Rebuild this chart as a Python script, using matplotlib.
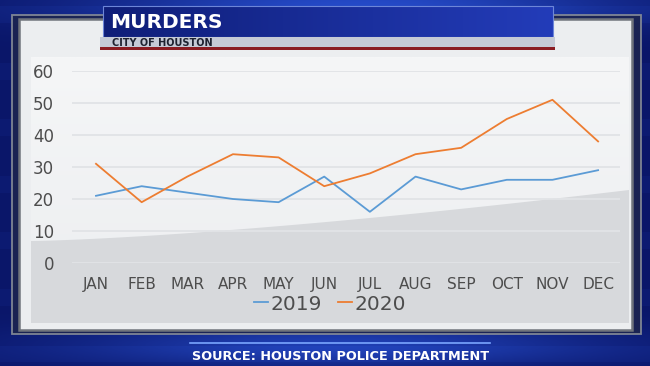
import numpy as np
import matplotlib
matplotlib.use("Agg")
import matplotlib.pyplot as plt
from matplotlib.patches import Rectangle, Polygon

months = ["JAN", "FEB", "MAR", "APR", "MAY", "JUN", "JUL", "AUG", "SEP", "OCT", "NOV", "DEC"]
murders_2019 = [21, 24, 22, 20, 19, 27, 16, 27, 23, 26, 26, 29]
murders_2020 = [31, 19, 27, 34, 33, 24, 28, 34, 36, 45, 51, 38]
y_ticks = [0, 10, 20, 30, 40, 50, 60]
series_labels = ["2019", "2020"]

W, H = 650, 366
FONT = "DejaVu Sans"
fig = plt.figure(figsize=(6.5, 3.66), dpi=100)

# ---- background layer in pixel coordinates ----
bg = fig.add_axes([0, 0, 1, 1], zorder=0)
bg.set_xlim(0, W)
bg.set_ylim(H, 0)
bg.axis("off")

yy, xx = np.mgrid[0:H, 0:W]
base = np.array([10, 22, 105]) / 255.0
img = np.ones((H, W, 3)) * base
glow_top = np.exp(-((yy - 5) / 25.0) ** 2) * np.exp(-((xx - 360) / 260.0) ** 2)
glow_bot = np.exp(-((yy - 345) / 22.0) ** 2) * np.exp(-((xx - 340) / 260.0) ** 2)
stripes = 0.08 * (np.sin(yy / 9.0) > 0.6)
g = np.clip(glow_top * 0.9 + glow_bot * 0.7 + stripes, 0, 1)[..., None]
bright = np.array([40, 80, 210]) / 255.0
img = img * (1 - g) + bright * g
bg.imshow(img, extent=[0, W, H, 0], aspect="auto", zorder=0)

# outer frame (thin gray lines, translucent gap)
bg.add_patch(Rectangle((12, 15), 629, 319, facecolor="#1c2450", edgecolor="#8a9099",
                       lw=1.3, alpha=0.9, zorder=1))
bg.add_patch(Rectangle((19, 19), 613, 311, facecolor="#eceef0", edgecolor="#70747c",
                       lw=1.8, zorder=2))
# inner plot panel with light gradient
panel = np.linspace(0, 1, 100)[:, None] * np.ones((1, 10))
top_c = np.array([245, 246, 247]) / 255.0
bot_c = np.array([236, 238, 240]) / 255.0
panel_rgb = top_c * (1 - panel[..., None]) + bot_c * panel[..., None]
bg.imshow(panel_rgb, extent=[31, 629, 323, 57], aspect="auto", zorder=3)
# lower gray wedge
xs = np.linspace(31, 629, 60)
ys = 241 - 51 * ((xs - 31) / 598.0) ** 1.4
wedge = list(zip(xs, ys)) + [(629, 323), (31, 323)]
bg.add_patch(Polygon(wedge, closed=True, facecolor="#d7d9dc", edgecolor="none", zorder=4))

# title banner
ban = np.linspace(0, 1, 200)[None, :] * np.ones((20, 1))
c1 = np.array([15, 30, 120]) / 255.0
c2 = np.array([35, 60, 185]) / 255.0
ban_rgb = c1 * (1 - ban[..., None]) + c2 * ban[..., None]
bg.imshow(ban_rgb, extent=[103, 553, 37, 6], aspect="auto", zorder=6)
bg.add_patch(Rectangle((103, 6), 450, 31, facecolor="none", edgecolor="#6d86d8", lw=0.8, zorder=7))
bg.add_patch(Rectangle((100, 37), 455, 10, facecolor="#c5cad6", edgecolor="none", zorder=7))
bg.add_patch(Rectangle((100, 47), 455, 3, facecolor="#8a1c22", edgecolor="none", zorder=7))
bg.text(110, 22, "MURDERS", color="white", fontsize=14.5, fontweight="bold",
        family=FONT, va="center", ha="left", zorder=8)
bg.text(112, 42.5, "CITY OF HOUSTON", color="#1e2230", fontsize=7, fontweight="bold",
        family=FONT, va="center", ha="left", zorder=8)

# source line and text
bg.plot([190, 490], [343, 343], color="#7aa6ff", lw=1.2, zorder=6)
bg.text(341, 356, "SOURCE: HOUSTON POLICE DEPARTMENT", color="white", fontsize=9.3,
        fontweight="bold", family=FONT, va="center", ha="center", zorder=8)

# ---- chart axes ----
ax_left, ax_right = 72 / W, 620 / W
ax_bottom, ax_top = (H - 263) / H, (H - 71) / H
ax = fig.add_axes([ax_left, ax_bottom, ax_right - ax_left, ax_top - ax_bottom], zorder=5)
ax.patch.set_alpha(0)
x = np.arange(len(months))
ax.plot(x, murders_2019, color="#5b9bd5", lw=1.3, label=series_labels[0], zorder=3)
ax.plot(x, murders_2020, color="#ed7d31", lw=1.3, label=series_labels[1], zorder=3)
ax.set_xlim(-0.526, 11.48)
ax.set_ylim(0, 60)
ax.set_yticks(y_ticks)
ax.set_xticks(x)
ax.set_xticklabels(months)
for s in ax.spines.values():
    s.set_visible(False)
ax.grid(axis="y", color="#e1e3e6", lw=1.3, zorder=0)
ax.tick_params(length=0, colors="#4d4d4d")
ax.tick_params(axis="y", pad=13, labelsize=12)
ax.tick_params(axis="x", pad=10, labelsize=11)
for lab in ax.get_xticklabels() + ax.get_yticklabels():
    lab.set_family(FONT)
    lab.set_color("#4d4d4d")

leg = ax.legend(loc="center", bbox_to_anchor=((330 - 72) / 548, (263 - 304) / (263 - 71)),
                ncol=2, frameon=False, handlelength=0.7, handletextpad=0.1,
                columnspacing=0.8, prop={"family": FONT, "size": 14.5})
for t in leg.get_texts():
    t.set_color("#4d4d4d")

fig.savefig("out.png", dpi=100)
